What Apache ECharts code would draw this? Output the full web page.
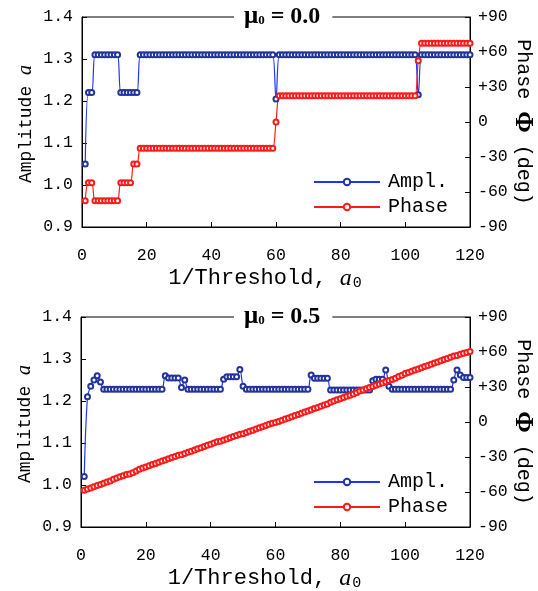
<!DOCTYPE html>
<html>
<head>
<meta charset="utf-8">
<script src="https://cdn.jsdelivr.net/npm/echarts@6/dist/echarts.min.js"></script>
<style>
  html, body { margin: 0; padding: 0; background: #fff; }
  #chart { width: 538px; height: 591px; }
</style>
</head>
<body>
<div id="chart"></div>
<script>
// x = 1..120 (1/Threshold), one value per step
// mu0 = 0.0 : amplitude (left axis) and phase in deg (right axis)
var amp0 = [
  1.05, 1.22, 1.22, 1.31, 1.31, 1.31, 1.31, 1.31, 1.31, 1.31,
  1.31, 1.22, 1.22, 1.22, 1.22, 1.22, 1.22, 1.31, 1.31, 1.31,
  1.31, 1.31, 1.31, 1.31, 1.31, 1.31, 1.31, 1.31, 1.31, 1.31,
  1.31, 1.31, 1.31, 1.31, 1.31, 1.31, 1.31, 1.31, 1.31, 1.31,
  1.31, 1.31, 1.31, 1.31, 1.31, 1.31, 1.31, 1.31, 1.31, 1.31,
  1.31, 1.31, 1.31, 1.31, 1.31, 1.31, 1.31, 1.31, 1.31, 1.205,
  1.31, 1.31, 1.31, 1.31, 1.31, 1.31, 1.31, 1.31, 1.31, 1.31,
  1.31, 1.31, 1.31, 1.31, 1.31, 1.31, 1.31, 1.31, 1.31, 1.31,
  1.31, 1.31, 1.31, 1.31, 1.31, 1.31, 1.31, 1.31, 1.31, 1.31,
  1.31, 1.31, 1.31, 1.31, 1.31, 1.31, 1.31, 1.31, 1.31, 1.31,
  1.31, 1.31, 1.31, 1.215, 1.31, 1.31, 1.31, 1.31, 1.31, 1.31,
  1.31, 1.31, 1.31, 1.31, 1.31, 1.31, 1.31, 1.31, 1.31, 1.31
];
var ph0 = [
  -67.5, -52, -52, -67.5, -67.5, -67.5, -67.5, -67.5, -67.5, -67.5,
  -67.5, -52, -52, -52, -52, -36, -36, -22.5, -22.5, -22.5,
  -22.5, -22.5, -22.5, -22.5, -22.5, -22.5, -22.5, -22.5, -22.5, -22.5,
  -22.5, -22.5, -22.5, -22.5, -22.5, -22.5, -22.5, -22.5, -22.5, -22.5,
  -22.5, -22.5, -22.5, -22.5, -22.5, -22.5, -22.5, -22.5, -22.5, -22.5,
  -22.5, -22.5, -22.5, -22.5, -22.5, -22.5, -22.5, -22.5, -22.5, 0,
  22.5, 22.5, 22.5, 22.5, 22.5, 22.5, 22.5, 22.5, 22.5, 22.5,
  22.5, 22.5, 22.5, 22.5, 22.5, 22.5, 22.5, 22.5, 22.5, 22.5,
  22.5, 22.5, 22.5, 22.5, 22.5, 22.5, 22.5, 22.5, 22.5, 22.5,
  22.5, 22.5, 22.5, 22.5, 22.5, 22.5, 22.5, 22.5, 22.5, 22.5,
  22.5, 22.5, 22.5, 52.5, 67.5, 67.5, 67.5, 67.5, 67.5, 67.5,
  67.5, 67.5, 67.5, 67.5, 67.5, 67.5, 67.5, 67.5, 67.5, 67.5
];
// mu0 = 0.5
var amp5 = [
  1.02, 1.21, 1.235, 1.25, 1.26, 1.245, 1.228, 1.228, 1.228, 1.228,
  1.228, 1.228, 1.228, 1.228, 1.228, 1.228, 1.228, 1.228, 1.228, 1.228,
  1.228, 1.228, 1.228, 1.228, 1.228, 1.26, 1.255, 1.255, 1.255, 1.255,
  1.232, 1.25, 1.228, 1.228, 1.228, 1.228, 1.228, 1.228, 1.228, 1.228,
  1.228, 1.228, 1.228, 1.252, 1.258, 1.258, 1.258, 1.258, 1.275, 1.235,
  1.228, 1.228, 1.228, 1.228, 1.228, 1.228, 1.228, 1.228, 1.228, 1.228,
  1.228, 1.228, 1.228, 1.228, 1.228, 1.228, 1.228, 1.228, 1.228, 1.228,
  1.262, 1.254, 1.254, 1.254, 1.254, 1.254, 1.226, 1.226, 1.226, 1.226,
  1.226, 1.226, 1.226, 1.226, 1.226, 1.226, 1.226, 1.226, 1.226, 1.248,
  1.252, 1.252, 1.252, 1.274, 1.235, 1.228, 1.228, 1.228, 1.228, 1.228,
  1.228, 1.228, 1.228, 1.228, 1.228, 1.228, 1.228, 1.228, 1.228, 1.228,
  1.228, 1.228, 1.228, 1.228, 1.25, 1.274, 1.262, 1.256, 1.256, 1.256
];
var ph5 = [
  -58.5, -57.5, -56.5, -55.5, -54.5, -53.5, -52.5, -51.5, -50.5, -49,
  -48, -47, -46, -45, -44.5, -43.5, -42, -40.5, -39.5, -38.5,
  -37.5, -36.5, -35.5, -34.5, -33.5, -32.5, -31.5, -30.5, -29.5, -28.5,
  -28, -27, -26, -25, -24, -23, -22, -21, -20, -19,
  -18, -17, -16.5, -15.5, -14.5, -13.5, -12.5, -11.5, -10.5, -10,
  -9, -8, -7, -6, -5, -4, -3, -2, -1, -0.5,
  0.5, 1.5, 2.5, 3.5, 4.5, 5.5, 6.5, 7.5, 8.5, 9.5,
  10.5, 11.5, 12.5, 13.5, 14.5, 15.5, 17, 18, 19, 20,
  21, 22, 23, 24, 25, 26.5, 27.5, 28.5, 29.5, 30.5,
  31.5, 32.5, 33.5, 34.5, 35.5, 36.5, 37.5, 39, 40, 41.5,
  42.5, 43.5, 44.5, 45.5, 46.5, 47.5, 48.5, 49.5, 50.5, 51.5,
  52.5, 53.5, 54.5, 55.5, 56.5, 57, 58, 59, 59.5, 60.5
];
var panelTitles = ['0.0', '0.5'];
var ampTicks = [0.9, 1.4, 0.1];
var phaseTicks = [-90, 90, 30];
var xTicks = [0, 120, 20];

var MONO = "'Liberation Mono', 'Courier New', monospace";
var SERIF = "'Liberation Serif', 'Times New Roman', serif";
var BLUE = '#1f33ff', BLUE_DOT = '#23339c', RED = '#ff1a1a';

var chart = echarts.init(document.getElementById('chart'));

function pairs(arr) {
  return arr.map(function (v, i) { return [i + 1, v]; });
}

function makeSeries(name, arr, gi, yi, lineColor, dotColor) {
  return {
    name: name,
    type: 'line',
    xAxisIndex: gi,
    yAxisIndex: yi,
    data: pairs(arr),
    smooth: 0.35,
    symbol: 'emptyCircle',
    symbolSize: 5,
    showAllSymbol: true,
    lineStyle: { color: lineColor, width: 1.2 },
    itemStyle: { color: dotColor, borderWidth: 1 }
  };
}

var grids = [
  { left: 82, top: 17, width: 388, height: 210 },
  { left: 81, top: 317, width: 389, height: 210 }
];

var xAxes = [], yAxes = [], titles = [], legends = [], series = [];
grids.forEach(function (g, gi) {
  g.show = true;
  g.borderColor = '#000';
  g.borderWidth = 1;
  g.containLabel = false;
  g.outerBoundsMode = 'none';

  xAxes.push({
    gridIndex: gi, type: 'value',
    min: xTicks[0], max: xTicks[1], interval: xTicks[2],
    axisLine: { onZero: false, lineStyle: { color: '#000', width: 1 } },
    axisTick: { inside: true, length: 5, lineStyle: { color: '#000' } },
    axisLabel: { color: '#000', fontFamily: MONO, fontSize: 16.5, margin: 20 },
    splitLine: { show: false },
    name: '1/Threshold, {i|a}{s|0}',
    nameLocation: 'middle', nameGap: 39, nameMoveOverlap: false,
    nameTextStyle: {
      color: '#000', fontFamily: MONO, fontSize: 22,
      padding: [0, 22, 0, 0],
      rich: {
        i: { fontFamily: SERIF, fontStyle: 'italic', fontSize: 24, color: '#000' },
        s: { fontFamily: MONO, fontSize: 15, color: '#000', padding: [10, 0, 0, 1] }
      }
    }
  });

  yAxes.push({
    gridIndex: gi, type: 'value', position: 'left',
    min: ampTicks[0], max: ampTicks[1], interval: ampTicks[2],
    axisLine: { show: true, onZero: false, lineStyle: { color: '#000', width: 1 } },
    axisTick: { show: true, inside: true, length: 5, lineStyle: { color: '#000' } },
    axisLabel: {
      color: '#000', fontFamily: MONO, fontSize: 16.5, margin: 9,
      formatter: function (v) { return v.toFixed(1); }
    },
    splitLine: { show: false },
    name: 'Amplitude {i|a}',
    nameLocation: 'middle', nameRotate: 90, nameGap: 46, nameMoveOverlap: false,
    nameTextStyle: {
      color: '#000', fontFamily: MONO, fontSize: 18,
      padding: [0, 4, 0, 0],
      rich: { i: { fontFamily: SERIF, fontStyle: 'italic', fontSize: 20, color: '#000' } }
    }
  });

  yAxes.push({
    gridIndex: gi, type: 'value', position: 'right',
    min: phaseTicks[0], max: phaseTicks[1], interval: phaseTicks[2],
    axisLine: { show: true, onZero: false, lineStyle: { color: '#000', width: 1 } },
    axisTick: { show: true, inside: true, length: 5, lineStyle: { color: '#000' } },
    axisLabel: {
      color: '#000', fontFamily: MONO, fontSize: 16.5, margin: 8,
      formatter: function (v) { return v > 0 ? '+' + v : String(v); }
    },
    splitLine: { show: false },
    name: 'Phase {p|Φ} (deg)',
    nameLocation: 'middle', nameRotate: -90, nameGap: 40, nameMoveOverlap: false,
    nameTextStyle: {
      color: '#000', fontFamily: MONO, fontSize: 20,
      rich: { p: { fontFamily: SERIF, fontWeight: 'bold', fontSize: 26, color: '#000' } }
    }
  });

  titles.push({
    text: '{m|μ}{s|0}{e| = ' + panelTitles[gi] + '}',
    left: 234, top: g.top - 13,
    backgroundColor: '#fff',
    padding: [0, 12, 0, 10],
    textStyle: {
      rich: {
        m: { fontFamily: SERIF, fontWeight: 'bold', fontSize: 25, color: '#000' },
        s: { fontFamily: SERIF, fontWeight: 'bold', fontSize: 13, color: '#000', padding: [9, 0, 0, 0] },
        e: { fontFamily: SERIF, fontWeight: 'bold', fontSize: 24, color: '#000' }
      }
    }
  });

  legends.push({
    orient: 'vertical',
    left: 308, top: g.top + 150,
    itemWidth: 66, itemHeight: 8, itemGap: 5,
    data: ['Ampl.', 'Phase'],
    textStyle: { fontFamily: MONO, fontSize: 20, color: '#000', padding: [0, 0, 0, 3] }
  });
});

series.push(makeSeries('Ampl.', amp0, 0, 0, BLUE, BLUE_DOT));
series.push(makeSeries('Phase', ph0, 0, 1, RED, RED));
series.push(makeSeries('Ampl.', amp5, 1, 2, BLUE, BLUE_DOT));
series.push(makeSeries('Phase', ph5, 1, 3, RED, RED));

chart.setOption({
  animation: false,
  backgroundColor: '#fff',
  title: titles,
  legend: legends,
  grid: grids,
  xAxis: xAxes,
  yAxis: yAxes,
  series: series
});
</script>
</body>
</html>
